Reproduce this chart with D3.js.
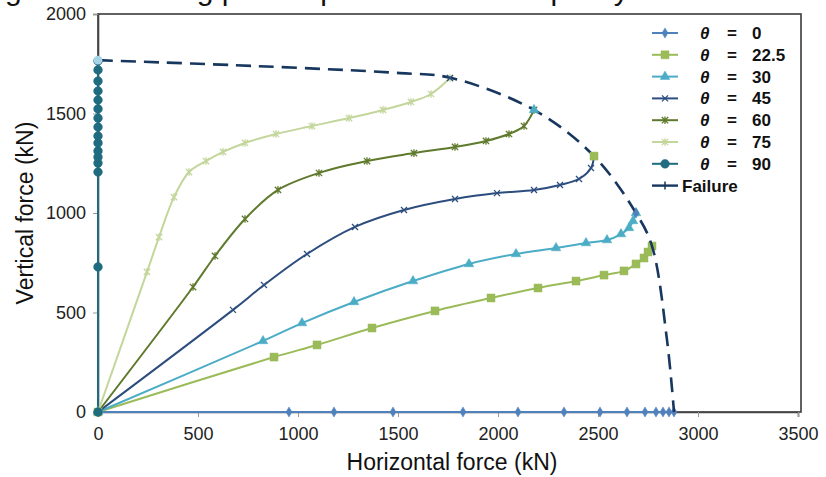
<!DOCTYPE html>
<html>
<head>
<meta charset="utf-8">
<script src="https://cdn.jsdelivr.net/npm/d3@7"></script>
<style>
  body { margin: 0; background: #fff; }
  svg { display: block; }
  text { font-family: "Liberation Sans", Arial, sans-serif; }
</style>
</head>
<body>
<script>
// tick labels
var xTicks = [0, 500, 1000, 1500, 2000, 2500, 3000, 3500];
var yTicks = [0, 500, 1000, 1500, 2000];

// load paths, horizontal (H) and vertical (V) force in kN
var h0 = [0, 955, 1180, 1475, 1825, 2100, 2330, 2510, 2645, 2735, 2790, 2825, 2855, 2880];
var v0 = [0, 0, 0, 0, 0, 0, 0, 0, 0, 0, 0, 0, 0, 0];

var h225 = [0, 880, 1095, 1370, 1685, 1965, 2200, 2390, 2530, 2630, 2690, 2730, 2750, 2770];
var v225 = [0, 276, 337, 422, 508, 573, 623, 658, 688, 709, 744, 774, 804, 834];

var h30 = [0, 825, 1020, 1280, 1575, 1855, 2090, 2290, 2440, 2545, 2615, 2655, 2675, 2690];
var v30 = [0, 357, 447, 553, 658, 744, 794, 824, 849, 864, 894, 925, 960, 1000];

var h45 = [0, 675, 830, 1045, 1285, 1530, 1785, 1995, 2180, 2310, 2405, 2465, 2480];
var v45 = [0, 513, 638, 794, 930, 1015, 1070, 1100, 1116, 1141, 1171, 1226, 1286];

var h60 = [0, 475, 585, 735, 900, 1105, 1345, 1580, 1785, 1940, 2055, 2130, 2180];
var v60 = [0, 628, 784, 970, 1116, 1201, 1261, 1301, 1332, 1362, 1397, 1437, 1518];

var h75 = [0, 245, 305, 380, 455, 540, 625, 735, 890, 1070, 1255, 1425, 1565, 1665, 1760];
var v75 = [0, 704, 879, 1080, 1206, 1261, 1307, 1352, 1397, 1437, 1477, 1518, 1558, 1598, 1678];

var h90 = [0, 0, 0, 0, 0, 0, 0, 0, 0, 0, 0, 0, 0, 0, 0, 0];
var v90 = [0, 729, 1206, 1251, 1281, 1312, 1352, 1387, 1432, 1477, 1523, 1568, 1613, 1663, 1719, 1764];

// failure envelope
var hFail = [0, 800, 1510, 1760, 2180, 2480, 2690, 2770, 2845, 2880];
var vFail = [1768, 1738, 1703, 1680, 1518, 1286, 1000, 834, 362, 0];

var width = 826;
var height = 477;

var svg = d3.select('body').append('svg')
    .attr('width', width)
    .attr('height', height);

var x = d3.scaleLinear().domain([0, 3500]).range([98, 798]);
var y = d3.scaleLinear().domain([0, 2000]).range([412, 14]);

function zip(hs, vs) {
    return hs.map(function (h, i) { return { h: h, v: vs[i] }; });
}

// star marker (x with a vertical bar), like the spreadsheet one
var star = {
    draw: function (ctx, size) {
        var r = Math.sqrt(size) / 2;
        ctx.moveTo(-r, -r); ctx.lineTo(r, r);
        ctx.moveTo(-r, r); ctx.lineTo(r, -r);
        ctx.moveTo(0, -r * 1.2); ctx.lineTo(0, r * 1.2);
    }
};
var cross = {
    draw: function (ctx, size) {
        var r = Math.sqrt(size) / 2;
        ctx.moveTo(-r, -r); ctx.lineTo(r, r);
        ctx.moveTo(-r, r); ctx.lineTo(r, -r);
    }
};

var series = [
    { name: '0', data: zip(h0, v0), color: '#4f81bd', symbol: d3.symbolDiamond, size: 30, filled: true, smooth: false },
    { name: '22.5', data: zip(h225, v225), color: '#9bbb59', symbol: d3.symbolSquare, size: 64, filled: true, smooth: true },
    { name: '30', data: zip(h30, v30), color: '#4bacc6', symbol: d3.symbolTriangle, size: 40, filled: true, smooth: true },
    { name: '45', data: zip(h45, v45), color: '#2c4d7e', symbol: cross, size: 36, filled: false, smooth: true },
    { name: '60', data: zip(h60, v60), color: '#5f7a2c', symbol: star, size: 40, filled: false, smooth: true },
    { name: '75', data: zip(h75, v75), color: '#c3d69b', symbol: star, size: 40, filled: false, smooth: true },
    { name: '90', data: zip(h90, v90), color: '#1f6b80', symbol: d3.symbolCircle, size: 60, filled: true, smooth: false }
];

function marker(s) {
    return function (sel) {
        sel.attr('d', d3.symbol().type(s.symbol).size(s.size))
            .attr('fill', s.filled ? s.color : 'none')
            .attr('stroke', s.color)
            .attr('stroke-width', s.filled ? 0.5 : 1.3);
    };
}

// clipped title at the very top (only the descenders show)
svg.append('text')
    .attr('x', -20)
    .attr('y', 0)
    .style('font-size', '30px')
    .attr('fill', '#111')
    .text('Figure 7. Loading paths up to the failure capacity');

// frame
svg.append('rect')
    .attr('x', x(0))
    .attr('y', y(2000))
    .attr('width', 801 - x(0))
    .attr('height', y(0) - y(2000))
    .attr('fill', 'none')
    .attr('stroke', '#3a3a3a')
    .attr('stroke-width', 1.6);

var xaxis = d3.axisBottom(x).tickValues(xTicks).tickFormat(d3.format('d')).tickSize(5).tickPadding(10);
svg.append('g')
    .classed('xaxis', true)
    .attr('transform', 'translate(0,' + y(0) + ')')
    .call(xaxis);

var yaxis = d3.axisLeft(y).tickValues(yTicks).tickFormat(d3.format('d')).tickSize(5).tickPadding(7);
svg.append('g')
    .classed('yaxis', true)
    .attr('transform', 'translate(' + x(0) + ',0)')
    .call(yaxis);

svg.selectAll('.xaxis path, .yaxis path').attr('stroke', '#444').attr('stroke-width', 1.6);
svg.selectAll('.tick line').attr('stroke', '#999');
svg.selectAll('.tick text')
    .style('font-size', '18px')
    .style('font-family', '"Liberation Sans", Arial, sans-serif')
    .attr('fill', '#222');

// lines
var smoothLine = d3.line()
    .x(function (d) { return x(d.h); })
    .y(function (d) { return y(d.v); })
    .curve(d3.curveCatmullRom.alpha(0.5));
var straightLine = d3.line()
    .x(function (d) { return x(d.h); })
    .y(function (d) { return y(d.v); });

var plot = svg.append('g');

series.forEach(function (s) {
    plot.append('path')
        .datum(s.data)
        .attr('d', s.smooth ? smoothLine : straightLine)
        .attr('fill', 'none')
        .attr('stroke', s.color)
        .attr('stroke-width', 2);
});

series.forEach(function (s) {
    plot.selectAll(null)
        .data(s.data)
        .join('path')
        .attr('transform', function (d) { return 'translate(' + x(d.h) + ',' + y(d.v) + ')'; })
        .call(marker(s));
});

// failure envelope
plot.append('path')
    .datum(zip(hFail, vFail))
    .attr('d', smoothLine)
    .attr('fill', 'none')
    .attr('stroke', '#17375e')
    .attr('stroke-width', 2.6)
    .attr('stroke-dasharray', '15,8');

// end points on the envelope carry another series' marker in the original
[2, 3, 4, 5].forEach(function (i) {
    var s = series[i];
    var last = s.data[s.data.length - 1];
    plot.append('path')
        .attr('transform', 'translate(' + x(last.h) + ',' + y(last.v) + ')')
        .call(marker(series[i - 2]));
});
plot.append('path')
    .attr('transform', 'translate(' + x(hFail[0]) + ',' + y(vFail[0]) + ')')
    .attr('d', d3.symbol().type(d3.symbolCircle).size(60))
    .attr('fill', '#a5d5e6');

// axis titles
svg.append('text')
    .attr('x', 452)
    .attr('y', 470)
    .attr('text-anchor', 'middle')
    .style('font-size', '23px')
    .attr('fill', '#111')
    .text('Horizontal force (kN)');

svg.append('text')
    .attr('transform', 'translate(33,213) rotate(-90)')
    .attr('text-anchor', 'middle')
    .style('font-size', '23px')
    .attr('fill', '#111')
    .text('Vertical force (kN)');

// legend
var legend = svg.append('g').attr('transform', 'translate(652,33)');
var rowH = 21.8;
series.forEach(function (s, i) {
    var g = legend.append('g').attr('transform', 'translate(0,' + (i * rowH) + ')');
    g.append('line').attr('x1', 0).attr('x2', 26).attr('y1', 0).attr('y2', 0)
        .attr('stroke', s.color).attr('stroke-width', 2);
    g.append('path')
        .attr('transform', 'translate(13,0)')
        .call(marker(s));
    g.append('text').attr('x', 48).attr('y', 6)
        .style('font-size', '17px').style('font-weight', 'bold').style('font-style', 'italic')
        .attr('fill', '#111').text('\u03b8');
    g.append('text').attr('x', 75).attr('y', 6)
        .style('font-size', '17px').style('font-weight', 'bold')
        .attr('fill', '#111').text('=');
    g.append('text').attr('x', 100).attr('y', 6)
        .style('font-size', '17px').style('font-weight', 'bold')
        .attr('fill', '#111').text(s.name);
});
var gf = legend.append('g').attr('transform', 'translate(0,' + (7 * rowH) + ')');
gf.append('line').attr('x1', 0).attr('x2', 26).attr('y1', 0).attr('y2', 0)
    .attr('stroke', '#17375e').attr('stroke-width', 2.4);
gf.append('line').attr('x1', 13).attr('x2', 13).attr('y1', -4).attr('y2', 4)
    .attr('stroke', '#17375e').attr('stroke-width', 1.5);
gf.append('text').attr('x', 30).attr('y', 6)
    .style('font-size', '17px').style('font-weight', 'bold')
    .attr('fill', '#111').text('Failure');
</script>
</body>
</html>
